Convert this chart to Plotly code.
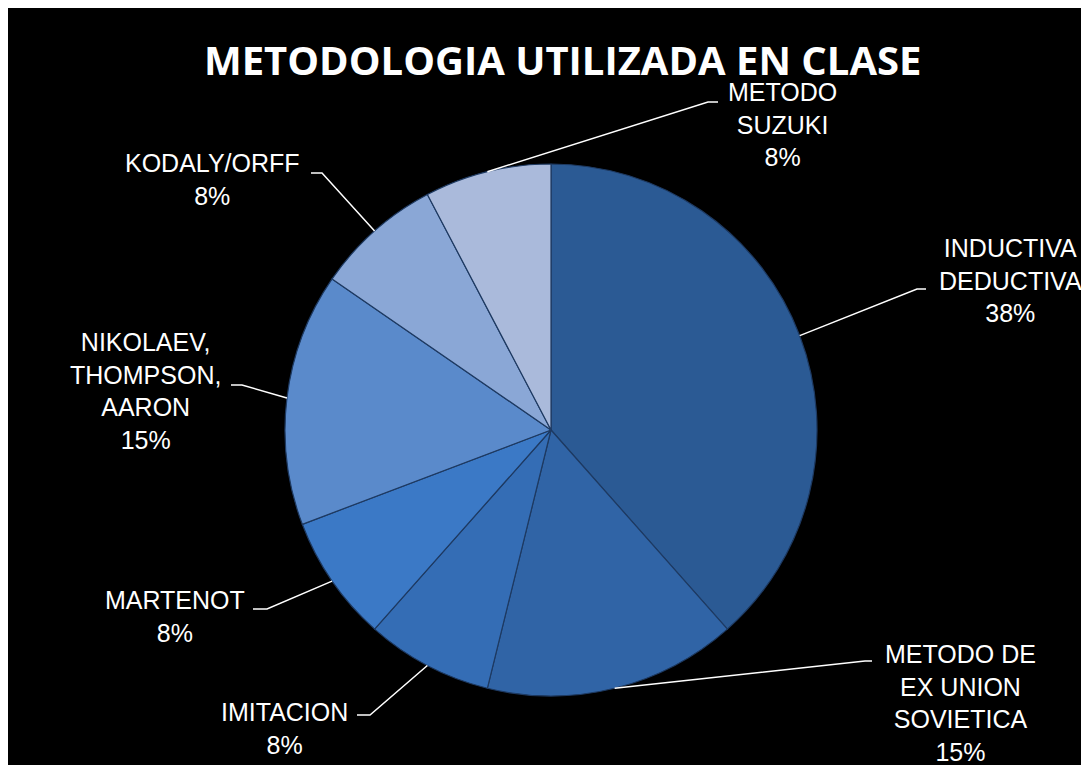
import math
import plotly.graph_objects as go

W, H = 1081, 757
OX, OY = 8, 8  # page body margin offset of the figure

# ---- data ----
categories = ["INDUCTIVA<br>DEDUCTIVA", "METODO DE<br>EX UNION<br>SOVIETICA", "IMITACION",
              "MARTENOT", "NIKOLAEV,<br>THOMPSON,<br>AARON", "KODALY/ORFF", "METODO<br>SUZUKI"]
values = [5, 2, 1, 1, 2, 1, 1]
colors = ["#2B5A94", "#3064A6", "#346DB5", "#3B79C6", "#5A8ACB", "#8AA7D6", "#AABADB"]

# ---- layout constants (page pixels) ----
cx, cy, R = 551, 430, 266
label_pos = [(1010, 280), (960, 703), (284, 728), (175, 616), (145, 391), (212, 180), (782, 125)]
elbows = [(917, 289), (865, 661), (370, 715), (267, 609), (242, 385), (322, 173), (708, 102)]
ends = [(926, 289), (872, 661), (357, 715), (253, 609), (231, 385), (311, 173), (718, 102)]


def px(x):
    return (x - OX) / W


def py(y):
    return 1 - (y - OY) / H


fig = go.Figure(go.Pie(
    labels=categories, values=values, sort=False, direction="clockwise", rotation=0,
    marker=dict(colors=colors, line=dict(color="#1E3A62", width=1.2)),
    textinfo="none", hoverinfo="label+percent", showlegend=False,
    domain=dict(x=[px(cx - R), px(cx + R)], y=[py(cy + R), py(cy - R)]),
))

total = sum(values)
shapes = []
annotations = []
cum = 0
for i, v in enumerate(values):
    mid = (cum + v / 2) / total * 2 * math.pi
    cum += v
    sx = cx + R * math.sin(mid)
    sy = cy - R * math.cos(mid)
    ex, ey = elbows[i]
    fx, fy = ends[i]
    shapes.append(dict(type="path", xref="paper", yref="paper",
                       path=f"M {px(sx)} {py(sy)} L {px(ex)} {py(ey)} L {px(fx)} {py(fy)}",
                       line=dict(color="white", width=1.5)))
    pct = round(v / total * 100)
    tx, ty = label_pos[i]
    annotations.append(dict(x=px(tx), y=py(ty), xref="paper", yref="paper",
                            text=f"{categories[i]}<br>{pct}%", showarrow=False,
                            xanchor="center", yanchor="middle", align="center",
                            font=dict(family="Liberation Sans, Arial, sans-serif", size=25, color="white")))

annotations.append(dict(x=px(562), y=py(59), xref="paper", yref="paper",
                        text="<b>METODOLOGIA UTILIZADA EN CLASE</b>", showarrow=False,
                        xanchor="center", yanchor="middle",
                        font=dict(family="Open Sans, sans-serif", size=40, color="white")))

fig.update_layout(width=W, height=H, margin=dict(l=0, r=0, t=0, b=0),
                  paper_bgcolor="black", plot_bgcolor="black",
                  shapes=shapes, annotations=annotations)

fig.write_html("out.html", post_script="document.body.style.overflow='hidden';")
